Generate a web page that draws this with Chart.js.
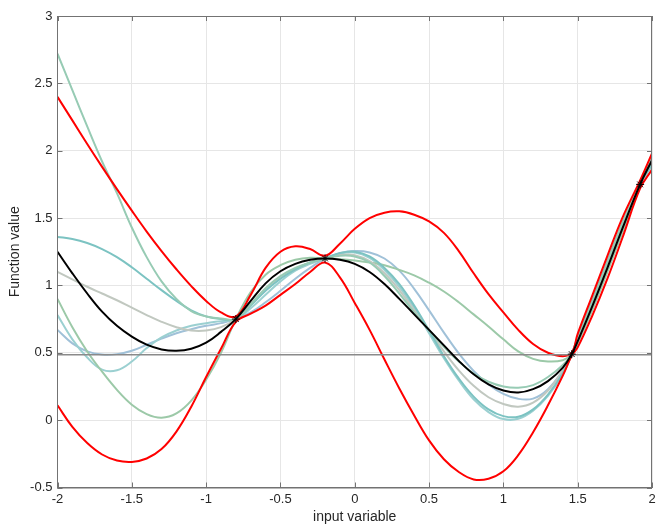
<!DOCTYPE html>
<html>
<head>
<meta charset="utf-8">
<script src="https://cdn.jsdelivr.net/npm/chart.js@4"></script>
<style>
  html, body { margin: 0; padding: 0; background: #fff; }
  #wrap { width: 657px; height: 527px; position: relative; }
</style>
</head>
<body>
<div id="wrap"><canvas id="myChart"></canvas></div>
<script>
const xs = [-2, -1.9, -1.8, -1.7, -1.6, -1.5, -1.4, -1.3, -1.2, -1.1, -1, -0.9, -0.8, -0.7, -0.6, -0.5, -0.4, -0.3, -0.2, -0.1,
            0, 0.1, 0.2, 0.3, 0.4, 0.5, 0.6, 0.7, 0.8, 0.9, 1, 1.1, 1.2, 1.3, 1.4, 1.46, 1.5, 1.6, 1.7, 1.8, 1.92, 2];

// mean (black)
const meanY = [1.25, 1.09, 0.94, 0.805, 0.70, 0.62, 0.56, 0.525, 0.515, 0.53, 0.575, 0.655, 0.75, 0.885, 1.015, 1.105, 1.16, 1.19, 1.20, 1.19,
               1.16, 1.10, 1.01, 0.90, 0.785, 0.67, 0.555, 0.44, 0.34, 0.265, 0.22, 0.205, 0.23, 0.29, 0.39, 0.49, 0.585, 0.85, 1.13, 1.42, 1.75, 1.93];
// upper / lower bound (red)
const upperY = [2.40, 2.225, 2.05, 1.88, 1.715, 1.555, 1.40, 1.255, 1.12, 0.995, 0.885, 0.80, 0.77, 0.93, 1.13, 1.25, 1.29, 1.27, 1.22, 1.31,
                1.42, 1.50, 1.54, 1.55, 1.525, 1.475, 1.39, 1.255, 1.09, 0.935, 0.80, 0.67, 0.565, 0.50, 0.475, 0.50, 0.64, 0.93, 1.22, 1.50, 1.78, 1.98];
const lowerY = [0.11, -0.05, -0.17, -0.255, -0.30, -0.31, -0.285, -0.215, -0.085, 0.10, 0.32, 0.53, 0.73, 0.79, 0.85, 0.93, 1.01, 1.10, 1.17, 1.06,
                0.87, 0.67, 0.45, 0.235, 0.035, -0.15, -0.29, -0.385, -0.44, -0.435, -0.38, -0.26, -0.09, 0.11, 0.33, 0.48, 0.54, 0.78, 1.05, 1.35, 1.72, 1.86];

// samples
const sampleA = [2.72, 2.45, 2.18, 1.92, 1.685, 1.43, 1.21, 1.03, 0.90, 0.81, 0.77, 0.755, 0.75, 0.86, 0.98, 1.07, 1.13, 1.17, 1.20, 1.22,
                 1.215, 1.17, 1.07, 0.94, 0.80, 0.67, 0.545, 0.435, 0.345, 0.285, 0.25, 0.24, 0.26, 0.32, 0.41, 0.49, 0.60, 0.88, 1.17, 1.46, 1.76, 1.93];
const sampleB = [1.36, 1.345, 1.315, 1.27, 1.21, 1.135, 1.05, 0.965, 0.885, 0.815, 0.77, 0.75, 0.75, 0.85, 0.96, 1.05, 1.12, 1.17, 1.20, 1.24,
                 1.25, 1.215, 1.13, 1.01, 0.85, 0.665, 0.475, 0.31, 0.175, 0.08, 0.03, 0.025, 0.08, 0.19, 0.35, 0.49, 0.61, 0.89, 1.18, 1.46, 1.75, 1.90];
const sampleC = [1.10, 1.045, 0.99, 0.94, 0.89, 0.835, 0.78, 0.73, 0.69, 0.665, 0.665, 0.69, 0.75, 0.86, 0.97, 1.06, 1.12, 1.17, 1.20, 1.225,
                 1.225, 1.18, 1.09, 0.965, 0.815, 0.665, 0.51, 0.37, 0.255, 0.17, 0.12, 0.10, 0.13, 0.22, 0.37, 0.49, 0.59, 0.86, 1.14, 1.43, 1.75, 1.94];
const sampleD = [0.90, 0.69, 0.51, 0.36, 0.225, 0.115, 0.045, 0.018, 0.05, 0.145, 0.30, 0.50, 0.75, 0.95, 1.08, 1.15, 1.19, 1.205, 1.20, 1.195,
                 1.185, 1.17, 1.15, 1.115, 1.075, 1.02, 0.955, 0.875, 0.785, 0.695, 0.60, 0.51, 0.455, 0.435, 0.445, 0.49, 0.57, 0.82, 1.10, 1.39, 1.74, 1.95];
const sampleE = [0.78, 0.60, 0.465, 0.375, 0.37, 0.435, 0.535, 0.615, 0.665, 0.70, 0.72, 0.735, 0.75, 0.83, 0.93, 1.03, 1.11, 1.16, 1.20, 1.235,
                 1.245, 1.205, 1.115, 0.99, 0.83, 0.645, 0.46, 0.295, 0.155, 0.06, 0.008, 0.01, 0.07, 0.18, 0.34, 0.49, 0.62, 0.90, 1.18, 1.46, 1.75, 1.89];
const sampleF = [0.67, 0.57, 0.51, 0.487, 0.49, 0.515, 0.56, 0.605, 0.645, 0.675, 0.70, 0.72, 0.75, 0.80, 0.875, 0.96, 1.05, 1.13, 1.20, 1.24,
                 1.255, 1.245, 1.20, 1.11, 0.975, 0.815, 0.65, 0.495, 0.365, 0.265, 0.195, 0.158, 0.16, 0.23, 0.37, 0.49, 0.60, 0.87, 1.16, 1.45, 1.75, 1.92];

// observed points
const obsX = [-0.8, -0.2, 1.46, 1.92];
const obsY = [0.75, 1.2, 0.49, 1.75];

// horizontal reference level
const levelX = [-2, 2];
const levelY = [0.485, 0.485];

function pts(xv, yv) {
  return xv.map((x, i) => ({ x: x, y: yv[i] }));
}

function curve(yv, color, order) {
  return {
    data: pts(xs, yv),
    borderColor: color,
    borderWidth: 2,
    pointRadius: 0,
    fill: false,
    tension: 0.4,
    order: order
  };
}

const FONT = '"Liberation Sans", Arial, Helvetica, sans-serif';
const AXIS_COLOR = '#737373';

// box round the plot + inward tick marks (matlab style)
const boxPlugin = {
  id: 'box',
  afterDraw(chart) {
    const ctx = chart.ctx;
    const a = chart.chartArea;
    const sx = chart.scales.x, sy = chart.scales.y;
    ctx.save();
    ctx.strokeStyle = AXIS_COLOR;
    ctx.lineWidth = 1;
    ctx.strokeRect(a.left, a.top + 0.5, a.right - a.left - 0.5, a.bottom - a.top);
    ctx.beginPath();
    sx.ticks.forEach(t => {
      const px = Math.round(sx.getPixelForValue(t.value)) + 0.5;
      ctx.moveTo(px, a.bottom); ctx.lineTo(px, a.bottom - 5);
      ctx.moveTo(px, a.top); ctx.lineTo(px, a.top + 5);
    });
    sy.ticks.forEach(t => {
      const py = Math.round(sy.getPixelForValue(t.value)) + 0.5;
      ctx.moveTo(a.left, py); ctx.lineTo(a.left + 5, py);
      ctx.moveTo(a.right, py); ctx.lineTo(a.right - 5, py);
    });
    ctx.stroke();
    ctx.restore();
  }
};

function fmt(v) {
  return String(+v.toFixed(2));
}

var ctx = document.getElementById('myChart').getContext('2d');
var myChart = new Chart(ctx, {
  type: 'line',
  data: {
    datasets: [
      {
        data: pts(obsX, obsY),
        showLine: false,
        pointStyle: 'star',
        pointRadius: 4,
        borderColor: '#000',
        borderWidth: 1,
        order: 0
      },
      curve(meanY, '#000000', 1),
      {
        data: pts(levelX, levelY),
        borderColor: '#8a8a8a',
        borderWidth: 1.5,
        pointRadius: 0,
        order: 2
      },
      curve(upperY, '#ff0000', 3),
      curve(lowerY, '#ff0000', 3),
      curve(sampleA, '#97cbb4', 5),
      curve(sampleB, '#7cc3c2', 5),
      curve(sampleC, '#c1c8c0', 5),
      curve(sampleD, '#9cc9a8', 5),
      curve(sampleE, '#9bd0d1', 5),
      curve(sampleF, '#a0c1d8', 5)
    ]
  },
  options: {
    responsive: true,
    maintainAspectRatio: false,
    animation: false,
    events: [],
    layout: { padding: { top: 16, right: 1, left: 0, bottom: 0 } },
    plugins: {
      legend: { display: false },
      tooltip: { enabled: false }
    },
    scales: {
      x: {
        type: 'linear',
        min: -2,
        max: 2,
        ticks: { stepSize: 0.5, padding: 4, color: '#262626', font: { family: FONT, size: 13 }, callback: fmt },
        grid: { color: '#e6e6e6', drawTicks: false },
        border: { display: true, color: AXIS_COLOR },
        title: { display: true, text: 'input variable', color: '#262626', padding: { top: 0, bottom: 1 }, font: { family: FONT, size: 14 } },
        afterFit: function(scale) {
          scale.height = 39.5;
          scale.paddingLeft = 0;
          scale.paddingRight = 0;
        }
      },
      y: {
        type: 'linear',
        min: -0.5,
        max: 3,
        ticks: { stepSize: 0.5, padding: 5, color: '#262626', font: { family: FONT, size: 13 }, callback: fmt },
        grid: { color: '#e6e6e6', drawTicks: false },
        border: { display: true, color: AXIS_COLOR },
        title: { display: true, text: 'Function value', color: '#262626', padding: { top: 7, bottom: 0 }, font: { family: FONT, size: 14 } },
        afterFit: function(scale) {
          scale.width = 57.5;
          scale.paddingTop = 0;
          scale.paddingBottom = 0;
        }
      }
    }
  },
  plugins: [boxPlugin]
});
</script>
</body>
</html>
